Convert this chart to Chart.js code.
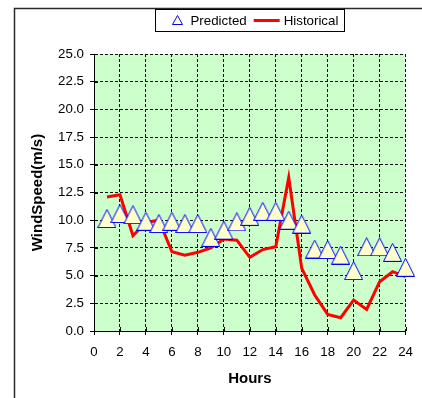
<!DOCTYPE html>
<html>
<head>
<meta charset="utf-8">
<script src="https://cdn.jsdelivr.net/npm/chart.js@4/dist/chart.umd.min.js"></script>
<style>
  html, body { margin: 0; padding: 0; background: #fff; }
  canvas { display: block; }
</style>
</head>
<body>
<canvas id="wind" width="422" height="398"></canvas>
<script>
// Hourly wind speed, m/s
const hours = [1, 2, 3, 4, 5, 6, 7, 8, 9, 10, 11, 12, 13, 14, 15, 16, 17, 18, 19, 20, 21, 22, 23, 24];
const predicted = [10.15, 10.6, 10.5, 9.9, 9.7, 9.9, 9.7, 9.7, 8.45, 9.1, 9.85, 10.35,
                   10.8, 10.8, 10.0, 9.65, 7.4, 7.35, 6.85, 5.45, 7.6, 7.6, 7.1, 5.75];
const historical = [12.1, 12.3, 8.6, 9.8, 10.0, 7.15, 6.85, 7.1, 7.5, 8.3, 8.2, 6.65,
                    7.35, 7.6, 13.85, 5.65, 3.25, 1.5, 1.2, 2.8, 1.95, 4.45, 5.35, 4.9];
const xTickValues = [0, 2, 4, 6, 8, 10, 12, 14, 16, 18, 20, 22, 24];
const yTickValues = [0, 2.5, 5, 7.5, 10, 12.5, 15, 17.5, 20, 22.5, 25];
const seriesNames = ['Predicted', 'Historical'];

const FONT = '"Liberation Sans", Arial, sans-serif';
Chart.defaults.color = '#000';
Chart.defaults.font.family = FONT;
Chart.defaults.font.size = 13.3;

// Yellow triangle marker with a blue outline
function makeTriangle(w, h) {
  const c = document.createElement('canvas');
  c.width = w; c.height = h;
  const g = c.getContext('2d');
  g.beginPath();
  g.moveTo(w / 2, 0.5);
  g.lineTo(w - 0.5, h - 0.5);
  g.lineTo(0.5, h - 0.5);
  g.closePath();
  g.fillStyle = '#FFFFCC';
  g.fill();
  g.strokeStyle = '#0000FF';
  g.lineWidth = 1;
  g.stroke();
  return c;
}
const triangleMarker = makeTriangle(19, 19);

// Plot background and outer frame
const frame = {
  id: 'frame',
  beforeDraw(chart) {
    const { ctx, chartArea: a } = chart;
    ctx.save();
    ctx.fillStyle = '#CCFFCC';
    ctx.fillRect(a.left, a.top, a.right - a.left, a.bottom - a.top);
    ctx.strokeStyle = '#2a2a2a';
    ctx.lineWidth = 1.5;
    ctx.strokeRect(14.5, 8.5, 600, 600);
    ctx.restore();
  },
  afterDraw(chart) {
    // inner halves of the cross tick marks
    const { ctx, chartArea: a, scales } = chart;
    ctx.save();
    ctx.strokeStyle = '#000';
    ctx.lineWidth = 1;
    ctx.beginPath();
    yTickValues.forEach(v => {
      const y = Math.round(scales.y.getPixelForValue(v)) + 0.5;
      ctx.moveTo(a.left, y); ctx.lineTo(a.left + 4, y);
    });
    xTickValues.forEach(v => {
      const x = Math.round(scales.x.getPixelForValue(v)) + 0.5;
      ctx.moveTo(x, a.bottom); ctx.lineTo(x, a.bottom - 4);
    });
    ctx.stroke();
    ctx.restore();
  }
};

// Boxed legend above the plot
const boxedLegend = {
  id: 'boxedLegend',
  afterDraw(chart) {
    const { ctx, chartArea: a } = chart;
    const ds = chart.data.datasets;
    ctx.save();
    ctx.font = '13.3px ' + FONT;
    const w0 = ctx.measureText(ds[0].label).width;
    const w1 = ctx.measureText(ds[1].label).width;
    const boxW = Math.round(78 + w0 + w1);
    const left = Math.round((a.left + a.right) / 2 - boxW / 2) + 0.5;
    const top = 9.5, boxH = 22, midY = 20.5;
    ctx.fillStyle = '#fff';
    ctx.fillRect(left, top, boxW, boxH);
    ctx.strokeStyle = '#000';
    ctx.lineWidth = 1;
    ctx.strokeRect(left, top, boxW, boxH);

    // triangle sample
    const tx = left + 22;
    ctx.beginPath();
    ctx.moveTo(tx, midY - 5);
    ctx.lineTo(tx + 5, midY + 4);
    ctx.lineTo(tx - 5, midY + 4);
    ctx.closePath();
    ctx.fillStyle = '#FFFFCC';
    ctx.fill();
    ctx.strokeStyle = '#0000FF';
    ctx.stroke();

    ctx.fillStyle = '#000';
    ctx.textBaseline = 'middle';
    ctx.textAlign = 'left';
    const t0 = left + 35;
    ctx.fillText(ds[0].label, t0, midY + 0.5);

    // line sample
    const l0 = t0 + w0 + 7;
    ctx.beginPath();
    ctx.moveTo(l0, midY);
    ctx.lineTo(l0 + 26, midY);
    ctx.strokeStyle = ds[1].borderColor;
    ctx.lineWidth = 3;
    ctx.stroke();

    ctx.fillStyle = '#000';
    ctx.fillText(ds[1].label, l0 + 30, midY + 0.5);
    ctx.restore();
  }
};

new Chart(document.getElementById('wind'), {
  type: 'scatter',
  data: {
    datasets: [
      {
        label: seriesNames[0],
        data: hours.map((h, i) => ({ x: h, y: predicted[i] })),
        pointStyle: triangleMarker,
        pointRadius: 9,
        showLine: false,
        clip: false,
        order: 0
      },
      {
        label: seriesNames[1],
        data: hours.map((h, i) => ({ x: h, y: historical[i] })),
        showLine: true,
        borderColor: '#FF0000',
        borderWidth: 3,
        pointRadius: 0,
        tension: 0,
        clip: false,
        order: 1
      }
    ]
  },
  options: {
    responsive: false,
    animation: false,
    devicePixelRatio: 1,
    layout: { padding: { top: 54, right: 7, left: 0, bottom: 0 } },
    plugins: { legend: { display: false }, tooltip: { enabled: false } },
    scales: {
      x: {
        type: 'linear',
        min: 0, max: 24,
        afterBuildTicks: s => { s.ticks = xTickValues.map(v => ({ value: v })); },
        afterFit: s => { s.height = 67; },
        ticks: { padding: 9, maxRotation: 0, autoSkip: false, color: '#000' },
        grid: { color: '#111', lineWidth: 1, tickLength: 4, tickColor: '#000', tickBorderDash: [] },
        border: { display: true, color: '#000', width: 1, dash: [3, 2] },
        title: { display: true, text: 'Hours', font: { size: 15, weight: 'bold' }, padding: { top: 0, bottom: 10 } }
      },
      y: {
        type: 'linear',
        min: 0, max: 25,
        afterBuildTicks: s => { s.ticks = yTickValues.map(v => ({ value: v })); },
        afterFit: s => { s.width = 94; },
        ticks: { padding: 6, callback: v => Number(v).toFixed(1), color: '#000' },
        grid: { color: '#111', lineWidth: 1, tickLength: 4, tickColor: '#000', tickBorderDash: [] },
        border: { display: true, color: '#000', width: 1, dash: [3, 2] },
        title: { display: true, text: 'WindSpeed(m/s)', font: { size: 15, weight: 'bold' }, padding: { top: 29, bottom: 0 } }
      }
    }
  },
  plugins: [frame, boxedLegend]
});
</script>
</body>
</html>
